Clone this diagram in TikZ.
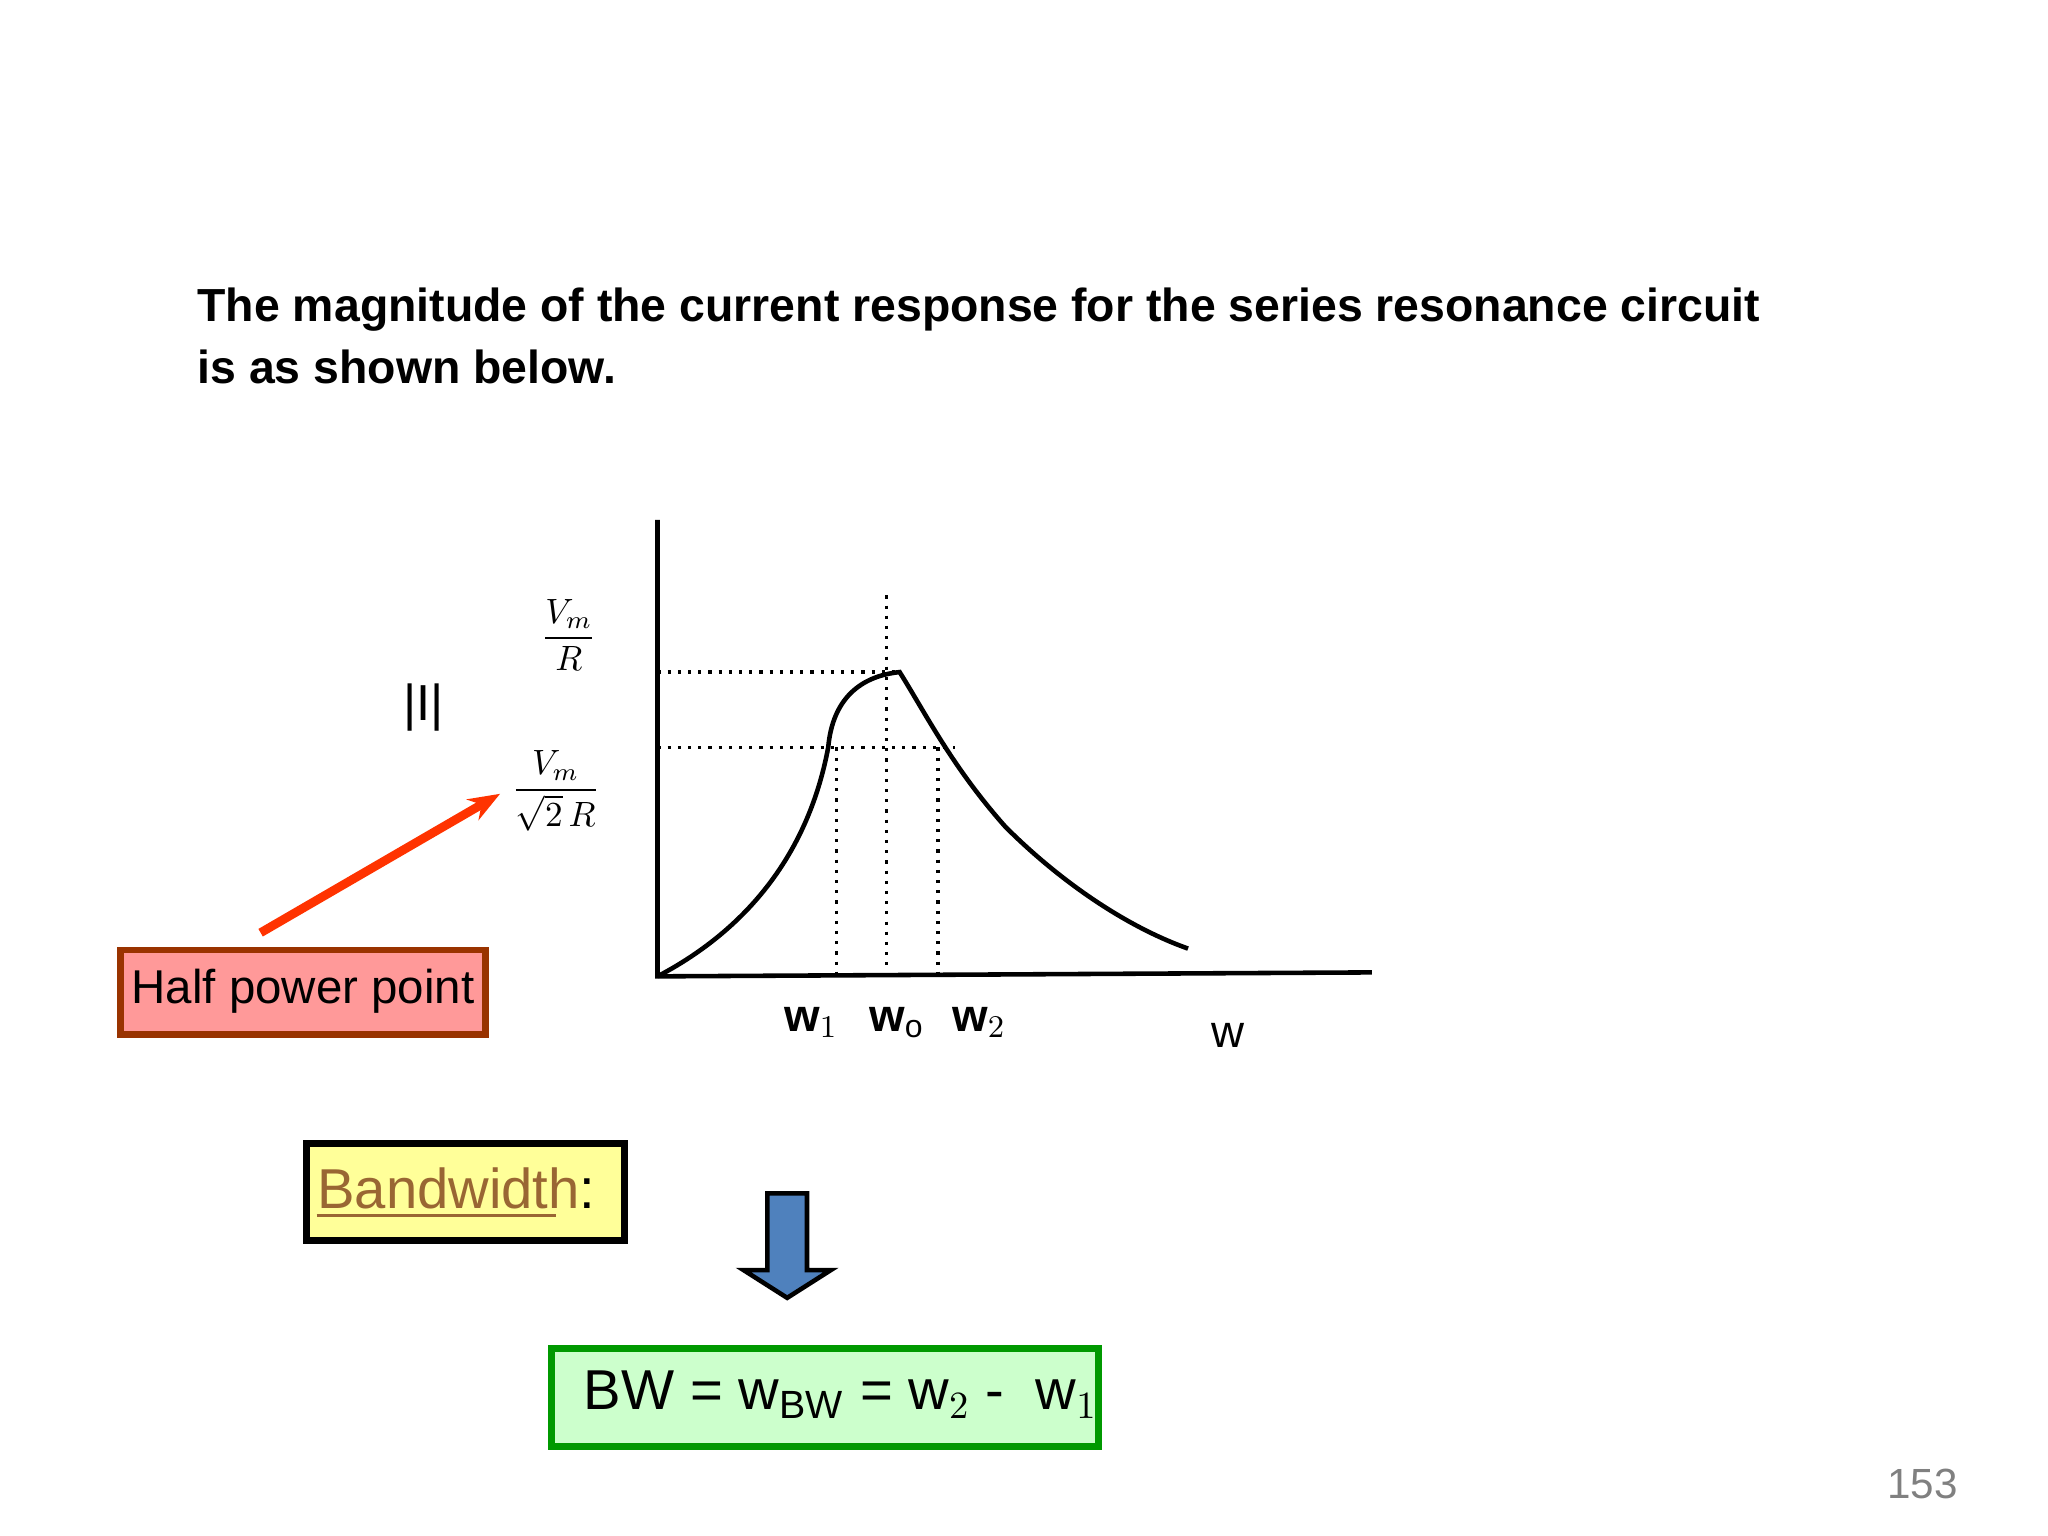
\documentclass[tikz,border=0pt]{standalone}
\usepackage{fontspec}
\setmainfont{Liberation Sans}
\usepackage{amsmath}
\usetikzlibrary{arrows.meta}
\definecolor{hpborder}{RGB}{153,51,0}
\definecolor{hpfill}{RGB}{255,153,153}
\definecolor{arrred}{RGB}{255,51,0}
\definecolor{bwbrown}{RGB}{153,102,51}
\definecolor{yfill}{RGB}{255,255,153}
\definecolor{bluef}{RGB}{79,129,189}
\definecolor{gfill}{RGB}{204,255,204}
\definecolor{gborder}{RGB}{0,153,0}
\begin{document}
\begin{tikzpicture}[x=0.01323cm,y=-0.01323cm,
  ax/.style={line width=1.3pt},
  dot/.style={dotted,line width=0.9pt},
  lbl/.style={font=\fontsize{13}{15}\selectfont\bfseries}]
\useasboundingbox (0,0) rectangle (1548,1161);
\node[anchor=west,align=left,font=\fontsize{13.2}{17.6}\selectfont\bfseries] (title) at (140,254)
 {The magnitude of the current response for the series resonance circuit\\is as shown below.};
% axes
\coordinate (o) at (497,738);
\coordinate (ytop) at (497,393);
\coordinate (xend) at (1037,735);
\draw[ax] (ytop) -- (o) -- (xend);
% dotted
\draw[dot] (497,508) -- (680,508);
\draw[dot] (497,565) -- (722,565);
\draw[dot] (632,565) -- (632,735);
\draw[dot] (670,450) -- (670,735);
\draw[dot] (709,565) -- (709,735);
% curve
\draw[line width=1.3pt] (o) .. controls (560,705) and (610,650) .. (626,565)
  .. controls (630,520) and (660,510) .. (680,508)
  .. controls (700,540) and (720,580) .. (760,625)
  .. controls (800,665) and (850,700) .. (898,717);
% labels
\node[font=\Large] (I) at (320,535) {|I|};
\node (f1) at (430,480) {$\dfrac{V_m}{R}$};
\node (f2) at (420,598) {$\dfrac{V_m}{\sqrt{2}\,R}$};
\node[lbl] (w1) at (613,773) {w$_1$};
\node[lbl] (wo) at (678,773) {w$_\mathrm{o}$};
\node[lbl] (w2) at (740,773) {w$_2$};
\node[font=\fontsize{13}{15}\selectfont] (w) at (928,783) {w};
% half power
\draw[draw=hpborder,fill=hpfill,line width=1.8pt] (91,718) rectangle (367,782);
\node[font=\fontsize{13.5}{15}\selectfont] (hpt) at (229,749) {Half power point};
\coordinate (as) at (197,705);
\coordinate (ae) at (378,600);
\draw[line width=2.5pt,draw=arrred,-{Stealth[length=9pt]}] (as) -- (ae);
% bandwidth
\draw[fill=yfill,line width=2pt] (232,864) rectangle (472,938);
\node[font=\fontsize{16}{18}\selectfont,inner sep=0pt] (bwl) at (345,898) {\textcolor{bwbrown}{Bandwidth}:};
\draw[bwbrown,line width=0.8pt] ([yshift=-2pt]bwl.base west) -- ++(181,0);
% blue arrow
\draw[fill=bluef,line width=1.3pt]
  (580,902) -- (610,902) -- (610,960) -- (628,960) -- (595,981) -- (562,960) -- (580,960) -- cycle;
% bw formula
\draw[fill=gfill,draw=gborder,line width=2pt] (417,1019) rectangle (830,1093);
\node[anchor=west,font=\fontsize{16}{18}\selectfont] (bw) at (432,1054) {BW = w$_\text{BW}$ = w$_2$ -\ \ w$_1$};
\node[text=gray,font=\fontsize{12}{14}\selectfont] (pg) at (1453,1122) {153};
\end{tikzpicture}
\end{document}
